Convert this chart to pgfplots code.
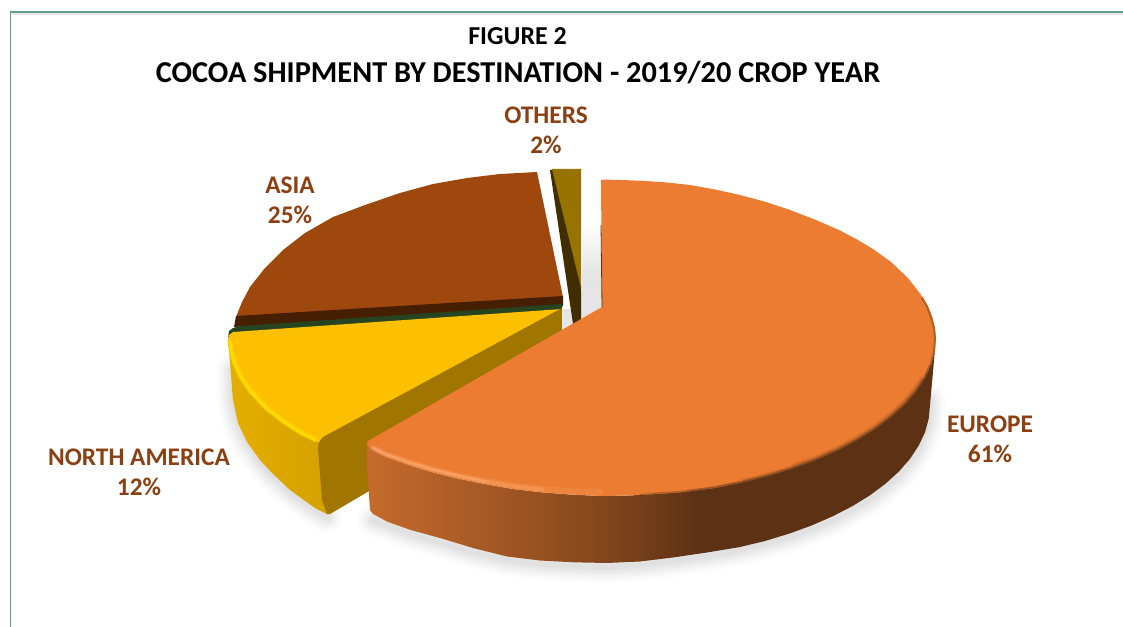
\documentclass[border=0pt]{standalone}
\usepackage{fontspec}
\setmainfont{Carlito}
\usepackage{pgfplots}
\pgfplotsset{compat=1.18}
\definecolor{lab}{RGB}{138,64,18}
\definecolor{euc1}{RGB}{196,106,44}
\definecolor{euc2}{RGB}{165,88,36}
\definecolor{euc3}{RGB}{130,70,28}
\definecolor{euc4}{RGB}{93,50,20}
\definecolor{yc1}{RGB}{228,174,0}
\definecolor{yc2}{RGB}{214,160,0}
\definecolor{rimdark}{RGB}{93,50,20}
\definecolor{rimlight}{RGB}{255,178,125}
\pgfdeclarehorizontalshading{euside}{100bp}{color(0bp)=(euc1); color(25bp)=(euc1); color(36bp)=(euc2); color(46bp)=(euc3); color(54bp)=(euc4); color(100bp)=(euc4)}
\pgfdeclarehorizontalshading{yside}{100bp}{color(0bp)=(yc1); color(25bp)=(yc1); color(75bp)=(yc2); color(100bp)=(yc2)}
\newcommand{\shadowlayer}[2]{%
\addplot[draw=black, opacity=#2, line width=#1, no markers, line join=round, line cap=round] coordinates {(930,400)(928.7,422)(918.7,449)(899.1,475)(870.3,499)(833.3,520)(789.3,537)(740,550)(707,556)(673,561)(640,565)(607,567)(573,566)(540,564)(507,560)(473,552)(440,542)(410.7,534)(373,520)};
\addplot[draw=black, opacity=#2, line width=#1, no markers, line join=round, line cap=round] coordinates {(232,370)(233,400)(238,423)(247,442)(260,462)(272,475)(290,492)(315,510)(327,517)};
}
\newcommand{\yellowrim}[2]{%
\addplot[draw={rgb,255:red,255;green,226;blue,0}, opacity=#2, line width=#1, no markers, line join=round] coordinates {(229.5,340)(231.5,352)(234.5,363)(241.5,378)(251.5,392)(266.5,408)(284.5,422)(301,432.5)(316,440)};
}
\begin{document}
\begin{tikzpicture}
\begin{axis}[
  scale only axis, width=842.25pt, height=470.25pt,
  xmin=0, xmax=1123, ymin=0, ymax=627, y dir=reverse,
  axis lines=none, clip=true,
]
% background and frame
\addplot[draw=none, fill=white] coordinates {(0,0)(1123,0)(1123,627)(0,627)} --cycle;
\addplot[draw={rgb,255:red,232;green,232;blue,232}, line width=1.5pt, no markers] coordinates {(11,14)(1123,14)};
\addplot[draw={rgb,255:red,98;green,158;blue,138}, line width=1.2pt, no markers] coordinates {(10.5,627)(10.5,12)(1123,12)};
% soft shadow
\shadowlayer{24pt}{0.012}
\shadowlayer{20pt}{0.016}
\shadowlayer{16pt}{0.02}
\shadowlayer{12pt}{0.022}
\shadowlayer{8pt}{0.025}
\shadowlayer{4pt}{0.025}
% gap shadow
\addplot[draw=none, top color=white, bottom color={rgb,255:red,230;green,230;blue,230}, middle color={rgb,255:red,228;green,228;blue,228}] coordinates {(582,222)(601,222)(602,310)(572,330)(563,330)(563,309)(576,309)(582,290)} --cycle;
% Asia
\addplot[draw=none, fill={rgb,255:red,158;green,72;blue,14}] coordinates {(537,172)(500,174)(467,178)(433,184)(400,193)(365,205)(333,217)(305,233)(283,250)(265,268)(250,287)(242,302)(236,317)(563,297)} --cycle;
\addplot[draw=none, fill={rgb,255:red,70;green,30;blue,2}] coordinates {(236,316)(563,296)(563,306)(234,327)} --cycle;
\addplot[draw=none, fill={rgb,255:red,38;green,68;blue,32}] coordinates {(228,338)(229,331)(233,328)(240,326)(562,304)(562,310)(232,333)} --cycle;
% Others
\addplot[draw=none, fill={rgb,255:red,64;green,45;blue,0}] coordinates {(550,170)(553,170)(581,285)(581,320)(573,324)} --cycle;
\addplot[draw=none, fill={rgb,255:red,153;green,115;blue,0}] coordinates {(552,169)(581,169)(581,288)} --cycle;
% North America
\addplot[shading=yside, draw=none] coordinates {(228,338)(230,352)(233,363)(240,378)(250,393)(265,409)(283,423)(300,434)(317,442)(326,442)(331,514)(327,514)(315,508)(290,490)(272,473)(260,460)(247,442)(238,423)(233,400)(231,375)(229,350)} --cycle;
\addplot[draw=none, fill={rgb,255:red,252;green,192;blue,0}] coordinates {(228,340)(229,335)(233,332)(562,309)(562,309)(323,438)(320,441)(317,442)(300,434)(283,423)(265,409)(250,393)(240,378)(233,363)(230,352)} --cycle;
\addplot[draw=none, fill={rgb,255:red,160;green,118;blue,0}] coordinates {(323,437)(562,308)(562,378)(330,514)(327,514)(322,500)(318,448)(319,442)} --cycle;
\yellowrim{5pt}{0.2}
\yellowrim{3.4pt}{0.35}
\yellowrim{1.8pt}{0.6}
% Europe side
\addplot[shading=euside, draw=none] coordinates {(936,338)(934.7,351.8)(930.9,365.4)(924.5,378.9)(915.7,392)(904.5,404.8)(891,417)(875.2,429)(857.4,440)(837.6,450.5)(816,460)(792.7,468.5)(768,476)(742,482.5)(714.9,488)(687,491.8)(658.3,494)(629.3,495.5)(600,496)(570.7,494.5)(541.7,492.3)(513,489)(485.1,484)(458,478.5)(432,472)(407.3,464.5)(384,456)(375,451)(369,447)(367,445)(368,480)(370,510)(373,514)(387.9,522)(410.7,530)(440,538)(473,548)(507,556.5)(540,560.5)(573,562.3)(607,563)(640,561.5)(673,557.5)(707,552.5)(740,547)(765,541)(789.3,533.6)(812.1,525.3)(833.3,516)(852.8,505.9)(870.3,495.1)(885.8,483.5)(899.1,471.3)(910.1,458.7)(918.7,445.6)(925,432.3)(928.7,418.7)(930,405)} --cycle;
% Europe top
\addplot[draw=none, fill={rgb,255:red,235;green,124;blue,49}] coordinates {(601,179.5)(602,307)(368,441)(367,445)(369,447)(375,451)(384,456)(407.3,464.5)(432,472)(458,478.5)(485.1,484)(513,489)(541.7,492.3)(570.7,494.5)(600,496)(629.3,495.5)(658.3,494)(687,491.8)(714.9,488)(742,482.5)(768,476)(792.7,468.5)(816,460)(837.6,450.5)(857.4,440)(875.2,429)(891,417)(904.5,404.8)(915.7,392)(924.5,378.9)(930.9,365.4)(934.7,351.8)(936,338)(935,328)(932.5,318)(928,306)(923,297.5)(915,287)(907,277)(891,262)(873,249)(857,239.5)(840,230.5)(816,220)(790,210)(766,202)(740,195)(715,189.5)(690,185)(665,182.3)(640,180.7)(620,180)} --cycle;
% rim bevel: light, tapering toward the centre
\addplot[draw=rimlight, opacity=0.18, line width=5pt, no markers, line join=round, line cap=round] coordinates {(373,448)(376,449.5)(385,454)(408,462)(433,469.5)(459,476)(486,481.5)(513,486)(542,489.5)(571,491.5)(600,492.5)};
\addplot[draw=rimlight, opacity=0.3, line width=3pt, no markers, line join=round, line cap=round] coordinates {(373,448)(376,449.5)(385,454)(408,462)(433,469.5)(459,476)(486,481.5)(513,486)(542,489.5)};
\addplot[draw=rimlight, opacity=0.45, line width=1.5pt, no markers, line join=round, line cap=round] coordinates {(373,448)(376,449.5)(385,454)(408,462)(433,469.5)(459,476)(486,481.5)};
% rim bevel: dark, tapering toward the centre
\addplot[draw=rimdark, opacity=0.1, line width=7pt, no markers, line join=round] coordinates {(792.7,468.5)(816,460)(837.6,450.5)(857.4,440)(875.2,429)(891,417)(904.5,404.8)(915.7,392)(924.5,378.9)};
\addplot[draw=rimdark, opacity=0.15, line width=5pt, no markers, line join=round] coordinates {(742,482.5)(768,476)(792.7,468.5)(816,460)(837.6,450.5)(857.4,440)(875.2,429)(891,417)(904.5,404.8)(915.7,392)(924.5,378.9)};
\addplot[draw=rimdark, opacity=0.25, line width=3pt, no markers, line join=round] coordinates {(687,491.8)(714.9,488)(742,482.5)(768,476)(792.7,468.5)(816,460)(837.6,450.5)(857.4,440)(875.2,429)(891,417)(904.5,404.8)(915.7,392)(924.5,378.9)(930.9,365.4)};
\addplot[draw=rimdark, opacity=0.4, line width=1.5pt, no markers, line join=round] coordinates {(640,495)(658.3,493.5)(687,491.3)(714.9,487.5)(742,482)(768,475.5)(792.7,468)(816,459.5)(837.6,450)(857.4,439.5)(875.2,428.5)(891,416.5)(904.5,404.3)(915.7,391.5)(924.5,378.4)(930.4,365.2)(934,351.8)(935,338)(934,328)(931.5,318.5)(927,306.5)(922,298)};
\addplot[draw=rimdark, line width=0.6pt, no markers] coordinates {(602,307)(601,225)};
% text
\node[font=\bfseries\fontsize{19.4}{20}\selectfont, text=black] at (axis cs:517.5,36) {FIGURE 2};
\node[font=\bfseries\fontsize{22.75}{24}\selectfont, text=black] at (axis cs:518,73) {COCOA SHIPMENT BY DESTINATION - 2019/20 CROP YEAR};
\node[font=\bfseries\fontsize{19}{20}\selectfont, text=lab] at (axis cs:546,115) {OTHERS};
\node[font=\bfseries\fontsize{19}{20}\selectfont, text=lab] at (axis cs:546,145) {2\%};
\node[font=\bfseries\fontsize{19}{20}\selectfont, text=lab] at (axis cs:290,185) {ASIA};
\node[font=\bfseries\fontsize{19}{20}\selectfont, text=lab] at (axis cs:290,215) {25\%};
\node[font=\bfseries\fontsize{19}{20}\selectfont, text=lab] at (axis cs:139,457) {NORTH AMERICA};
\node[font=\bfseries\fontsize{19}{20}\selectfont, text=lab] at (axis cs:139,487) {12\%};
\node[font=\bfseries\fontsize{19}{20}\selectfont, text=lab] at (axis cs:990,424) {EUROPE};
\node[font=\bfseries\fontsize{19}{20}\selectfont, text=lab] at (axis cs:990,454) {61\%};
\end{axis}
\end{tikzpicture}
\end{document}
